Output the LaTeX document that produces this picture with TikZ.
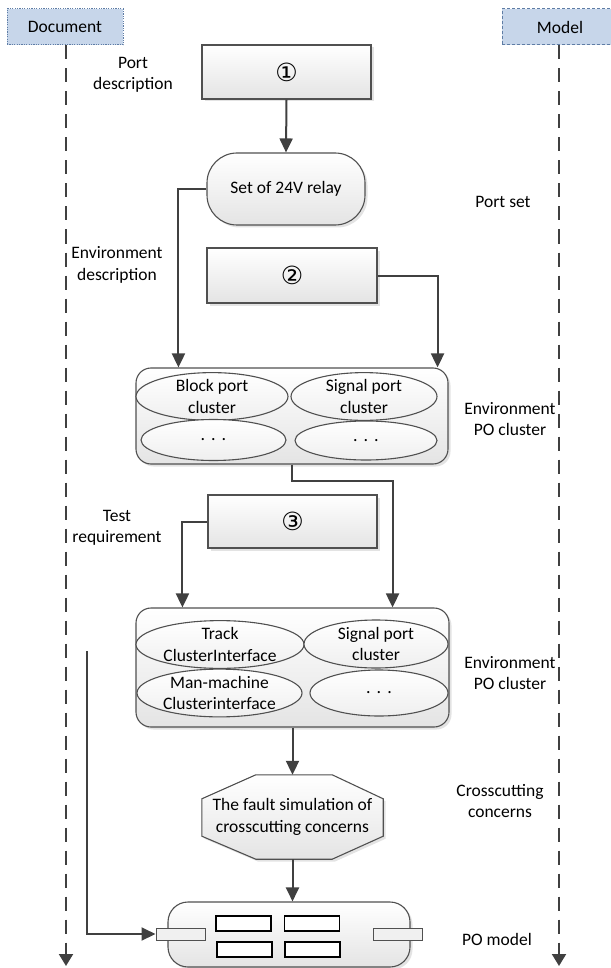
\documentclass[tikz,border=0pt]{standalone}
\usepackage{fontspec}
\setmainfont{Carlito}
\newfontfamily\dejavu{DejaVu Sans}
\usetikzlibrary{arrows.meta,shadows,backgrounds,calc,shapes.geometric}
\definecolor{hdrfill}{RGB}{199,214,234}
\definecolor{hdrline}{RGB}{95,125,165}
\definecolor{linec}{RGB}{64,64,64}
\definecolor{boxline}{RGB}{80,80,80}
\definecolor{boxbot}{RGB}{228,228,228}
\begin{document}
\begin{tikzpicture}[x=1pt,y=-1pt,
  every node/.style={font=\fontsize{17.5}{21.5}\selectfont, inner sep=0pt, align=center, text=black},
  hdr/.style={fill=hdrfill, draw=hdrline, line width=1pt, minimum width=116pt, minimum height=36pt},
  box/.style={draw=boxline, line width=1.1pt, top color=white, bottom color=boxbot,
    drop shadow={opacity=0.22, shadow xshift=2.5pt, shadow yshift=-2.5pt}},
  oval/.style={ellipse, draw=boxline, line width=1.1pt, top color=white, bottom color=boxbot!60},
  port/.style={draw=boxline, line width=1pt, fill=gray!12, minimum width=49pt, minimum height=12pt},
  inner/.style={draw=black, line width=1.6pt, fill=white, minimum width=55pt, minimum height=15pt},
  lbl/.style={},
  arr/.style={draw=linec, line width=2pt, -{Triangle[length=14pt,width=13pt]}},
  life/.style={draw=linec, line width=2pt, dash pattern=on 14pt off 9pt, -{Triangle[length=12pt,width=14pt]}},
  dots/.style={font=\fontsize{18}{18}\selectfont}
]
\useasboundingbox (0,0) rectangle (610,968);

% headers and lifelines
\node[hdr, dash pattern=on 1.2pt off 1.2pt] (doc) at (65,27) {Document};
\node[hdr, dash pattern=on 3pt off 2pt] (model) at (560,27) {Model};
\coordinate (docend) at (66,966);
\coordinate (modelend) at (559,966);
\draw[life] (doc.south -| docend) -- (docend);
\draw[life] (model.south -| modelend) -- (modelend);

% labels
\node[lbl] (lport) at (133,75) {Port\\description};
\node[lbl] (lportset) at (503,202) {Port set};
\node[lbl] (lenvdesc) at (117,265) {Environment\\description};
\node[lbl] (lenv1) at (510,419) {Environment\\PO cluster};
\node[lbl] (ltest) at (117,528) {Test\\requirement};
\node[lbl] (lenv2) at (510,673) {Environment\\PO cluster};
\node[lbl] (lcross) at (500,801) {Crosscutting\\concerns};
\node[lbl] (lpo) at (497,939) {PO model};

% boxes
\node[box, minimum width=169pt, minimum height=54pt] (b1) at (286.5,72) {\dejavu\fontsize{25}{25}\selectfont ①};
\node[box, rounded corners=30pt, minimum width=158pt, minimum height=72pt] (relay) at (286,189) {Set of 24V relay};
\node[box, minimum width=170pt, minimum height=55pt] (b2) at (292,275.5) {\dejavu\fontsize{25}{25}\selectfont ②};

\node[box, rounded corners=15pt, minimum width=312pt, minimum height=96pt] (c1) at (292,416) {};
\node[oval, minimum width=152pt, minimum height=45pt] (e11) at (212,396.5) {Block port\\cluster};
\node[oval, minimum width=146pt, minimum height=45pt] (e12) at (364,396.5) {Signal port\\cluster};
\node[oval, minimum width=145pt, minimum height=41pt, dots] (e13) at (213.5,440) {.\,\,.\,\,.};
\node[oval, minimum width=142pt, minimum height=39pt, dots] (e14) at (366,440.5) {.\,\,.\,\,.};

\node[box, minimum width=169pt, minimum height=53pt] (b3) at (292.5,521.5) {\dejavu\fontsize{25}{25}\selectfont ③};

\node[box, rounded corners=15pt, minimum width=313pt, minimum height=119pt] (c2) at (292.5,667.5) {};
\node[oval, minimum width=168pt, minimum height=47pt] (e21) at (220,644.5) {Track\\ClusterInterface};
\node[oval, minimum width=144pt, minimum height=48pt] (e22) at (376,644) {Signal port\\cluster};
\node[oval, minimum width=165pt, minimum height=46pt] (e23) at (219.5,693) {Man-machine\\Clusterinterface};
\node[oval, minimum width=138pt, minimum height=46pt, dots] (e24) at (379,693) {.\,\,.\,\,.};

% octagon
\node[minimum width=181pt, minimum height=84pt] (oct) at (292.5,817) {The fault simulation of\\crosscutting concerns};
\begin{scope}[on background layer]
\draw[box] ($(oct.north west)+(54,0)$) -- ($(oct.north east)+(-51,0)$) -- ($(oct.north east)+(0,24)$)
  -- ($(oct.south east)+(0,-23)$) -- ($(oct.south east)+(-51,0)$) -- ($(oct.south west)+(54,0)$)
  -- ($(oct.south west)+(0,-23)$) -- ($(oct.north west)+(0,24)$) -- cycle;
\end{scope}

% PO model
\node[box, rounded corners=20pt, minimum width=242pt, minimum height=65pt] (po) at (289,934.5) {};
\node[port] (pl) at (180.5,934) {};
\node[port] (pr) at (398,934) {};
\node[inner] (r1) at (243.5,923.5) {};
\node[inner] (r2) at (312,923.5) {};
\node[inner] (r3) at (244.5,949.5) {};
\node[inner] (r4) at (312.5,949.5) {};

% connectors
\draw[arr] (b1.south) -- (relay.north);
\draw[arr] (relay.west) -| ([xshift=43pt]c1.north west);
\draw[arr] (b2.east) -| ([xshift=-11pt]c1.north east);
\draw[arr] (c1.south) -- ++(0,16) -| ([xshift=-57pt]c2.north east);
\draw[arr] (b3.west) -| ([xshift=47pt]c2.north west);
\draw[arr] (c2.south) -- (oct.north);
\draw[arr] (oct.south) -- (oct.south |- po.north);
\coordinate (lstart) at (87,651);
\draw[arr] (lstart) |- (pl.west);
\end{tikzpicture}
\end{document}
